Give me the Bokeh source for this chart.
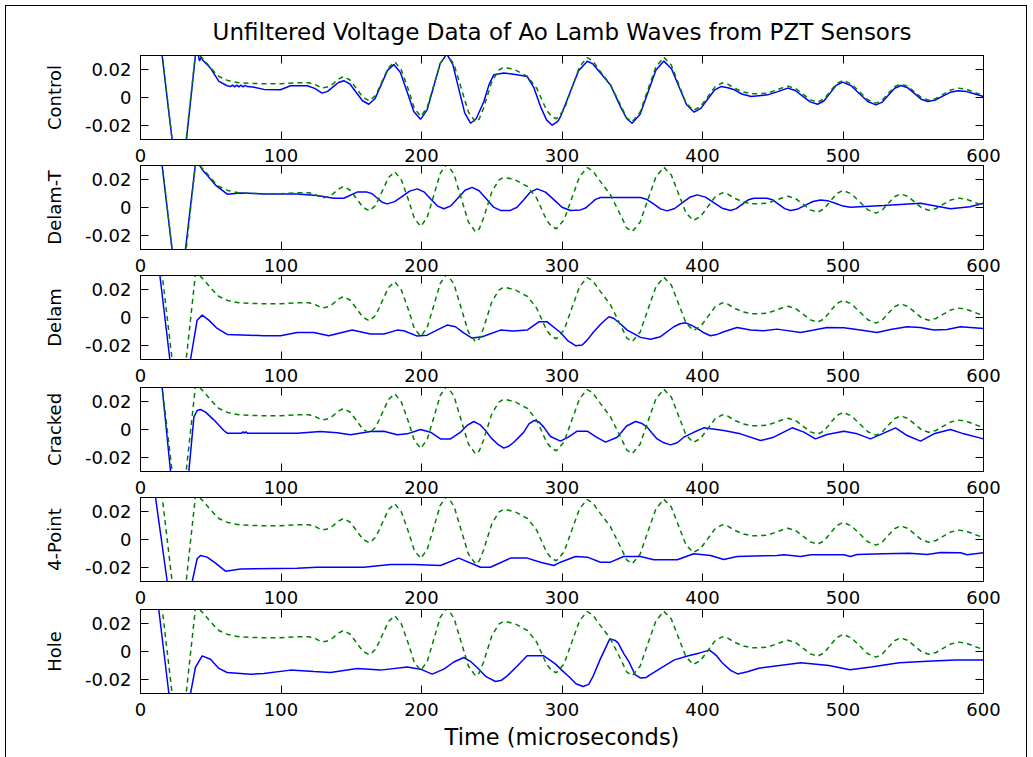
from bokeh.plotting import figure
from bokeh.layouts import column
from bokeh.models import LinearAxis, FixedTicker, Range1d, CustomJSTickFormatter
from bokeh.embed import file_html
from bokeh.resources import INLINE

FONT = "DejaVu Sans"
TITLE = "Unfiltered Voltage Data of Ao Lamb Waves from PZT Sensors"
X_LABEL = "Time (microseconds)"
panel_labels = ["Control", "Delam-T", "Delam", "Cracked", "4-Point", "Hole"]
x_ticks = [0, 100, 200, 300, 400, 500, 600]
y_ticks = [-0.02, 0, 0.02]

# green dashed reference (control) signal, drawn in every panel
t_ref = [0, 13.5, 15.5, 22.5, 27, 32.5, 39, 41.5, 43, 45, 50, 55.8, 62, 70, 80, 90, 100, 110, 120, 124.5,
         129, 132.9, 136.7, 140.6, 144.5, 149.1, 153.8, 158.4, 163, 167.5, 172, 176.5, 181, 185.6, 190.2,
         194.9, 199.5, 204.1, 208.8, 213.4, 218, 223.1, 228.2, 233.4, 238.5, 241, 244, 250, 255, 257.5, 260,
         267, 275.5, 282, 289, 292.5, 296, 301.5, 307, 312.5, 318, 322, 327, 334.5, 342, 346, 350, 355.6,
         361.2, 366.9, 372.5, 377.8, 383, 388.2, 393.5, 398.6, 403.8, 408.9, 414, 418, 423, 429, 435, 446,
         453, 456.5, 461, 466.2, 471.5, 476.8, 482, 486.5, 491, 495.5, 500, 505.9, 511.8, 517.6, 523.5,
         527.9, 532.2, 536.6, 541, 546, 551, 556, 561, 566.2, 571.5, 576.8, 582, 588, 594, 600]
v_ref = [0.045, 0.045, 0.03, -0.03, -0.045, -0.03, 0.03, 0.032, 0.029, 0.027, 0.021, 0.015, 0.0122, 0.0105,
         0.0100, 0.0098, 0.0098, 0.0105, 0.0105, 0.0092, 0.0067, 0.0075, 0.0095, 0.013, 0.015, 0.0125,
         0.0063, 0.0001, -0.0024, 0.0017, 0.0116, 0.0214, 0.0255, 0.0198, 0.007, -0.0078, -0.0135, -0.007,
         0.0088, 0.0245, 0.031, 0.0239, 0.0068, -0.0104, -0.0175, -0.0155, -0.008, 0.011, 0.0195, 0.021,
         0.0215, 0.0195, 0.015, 0.0066, -0.009, -0.0135, -0.0152, -0.0088, 0.0067, 0.0221, 0.0285, 0.026,
         0.019, 0.009, -0.006, -0.0145, -0.0172, -0.0105, 0.0058, 0.022, 0.0287, 0.0232, 0.0097, -0.0038,
         -0.0093, -0.0064, 0.0006, 0.0076, 0.0105, 0.0095, 0.0065, 0.004, 0.0026, 0.003, 0.0055, 0.0068,
         0.008, 0.0064, 0.0024, -0.0017, -0.0033, -0.001, 0.0045, 0.0099, 0.0122, 0.0098, 0.0041, -0.0016,
         -0.004, -0.002, 0.0029, 0.0077, 0.0097, 0.008, 0.0039, -0.0003, -0.002, -0.0007, 0.0024, 0.0054,
         0.0067, 0.0058, 0.0035, 0.0014]

# blue solid signals, one per panel
t_control = [0, 13.5, 15.4, 22.5, 27, 32.7, 39.1, 41, 42, 43, 44, 49.8, 55.8, 61.7, 64, 65.5, 67, 68.5, 70,
             71.5, 73, 74.5, 76, 80, 87.8, 99.6, 106.8, 118.6, 124, 129.3, 133.2, 137, 140.9, 144.7, 149.2,
             153.6, 158, 162.5, 167, 171.4, 175.8, 180.3, 185, 189.8, 194.5, 199.3, 204, 208.6, 213.3, 218,
             222.2, 226.5, 230.8, 235, 239, 244.4, 248, 251.5, 258.6, 268, 275.2, 280, 284.7, 289, 293, 297,
             299.2, 305.5, 311.8, 318, 322, 327.4, 334.5, 341.6, 346, 349.9, 355.6, 361.2, 366.8, 372.5, 377.9,
             383.2, 388.6, 394, 398.8, 403.6, 408.5, 413.3, 418, 422.7, 428, 434.6, 446.4, 453, 460.7, 466,
             471.3, 476.6, 481.9, 486.4, 490.8, 495.2, 499.7, 505.6, 511.6, 517.6, 523.5, 528, 532.4, 536.8,
             541.3, 546.1, 550.8, 555.6, 560.4, 565.7, 571, 576.4, 581.7, 588, 594, 600]
v_control = [0.045, 0.045, 0.03, -0.03, -0.045, -0.03, 0.03, 0.031, 0.026, 0.029, 0.027, 0.021, 0.0115,
             0.0084, 0.0078, 0.0088, 0.0076, 0.0088, 0.0076, 0.0088, 0.0076, 0.0086, 0.0078, 0.0075, 0.0058,
             0.0055, 0.0084, 0.0084, 0.0065, 0.0031, 0.0044, 0.0076, 0.0107, 0.012, 0.0095, 0.0036, -0.0023,
             -0.0048, -0.0007, 0.0094, 0.0194, 0.0235, 0.0179, 0.004, -0.01, -0.0156, -0.0088, 0.0077, 0.0242,
             0.031, 0.0238, 0.0063, -0.0112, -0.0184, -0.015, -0.0029, 0.009, 0.0163, 0.0175, 0.0163, 0.015,
             0.007, -0.0065, -0.016, -0.0198, -0.017, -0.0131, 0.003, 0.0192, 0.0259, 0.024, 0.0175, 0.009,
             -0.0065, -0.015, -0.0184, -0.0119, 0.0038, 0.0195, 0.026, 0.0206, 0.0078, -0.005, -0.0105,
             -0.0078, -0.0013, 0.0052, 0.0079, 0.007, 0.0055, 0.0025, 0.0007, 0.0019, 0.004, 0.0067, 0.005,
             0.001, -0.0031, -0.0048, -0.0025, 0.0031, 0.0087, 0.011, 0.0086, 0.0029, -0.0029, -0.0053,
             -0.0033, 0.0017, 0.0066, 0.0086, 0.0069, 0.0029, -0.0012, -0.0029, -0.0018, 0.001, 0.0037,
             0.0048, 0.0042, 0.0025, 0.0007]

t_delam_t = [0, 13.5, 15.4, 22.5, 27, 32, 39, 41.5, 44, 47.5, 53.4, 61.7, 71, 87.8, 111.5, 125.7, 137.6,
             144.7, 154.2, 161.3, 164.9, 168.4, 172, 175.6, 180.9, 186.3, 191.6, 197, 201.7, 206.4, 211.2,
             215.9, 220.9, 226, 231, 236, 241, 246.1, 251.2, 256.2, 263.3, 268, 272.8, 277.5, 282.3, 288.2,
             294.2, 300, 306, 313.2, 316.7, 320.3, 323.8, 327.4, 339.3, 355.9, 360.6, 365.4, 370.1, 374.9,
             380.2, 385.5, 390.9, 396.2, 402.1, 408, 414, 419.9, 424, 428.2, 432.3, 436.5, 446, 450.2, 454.3,
             458.5, 462.6, 468, 473.3, 478.6, 484, 489, 495, 500, 505.3, 529, 555.2, 576.5, 590.4, 600]
v_delam_t = [0.045, 0.045, 0.03, -0.03, -0.045, -0.03, 0.03, 0.031, 0.027, 0.023, 0.016, 0.0095, 0.0104,
             0.0097, 0.0097, 0.0085, 0.0066, 0.0066, 0.011, 0.011, 0.0098, 0.0068, 0.0038, 0.0026, 0.0042,
             0.008, 0.0117, 0.0133, 0.0112, 0.0062, 0.0012, -0.0009, 0.0012, 0.0068, 0.0123, 0.0144, 0.012,
             0.0062, 0.0003, -0.0021, -0.0021, 0.0002, 0.0056, 0.011, 0.0133, 0.011, 0.0056, 0.0002, -0.0021,
             -0.0017, -0.0004, 0.0027, 0.0058, 0.0071, 0.0071, 0.0071, 0.0057, 0.0024, -0.001, -0.0024,
             -0.0007, 0.0033, 0.0073, 0.009, 0.0074, 0.0035, -0.0005, -0.0021, -0.0008, 0.0023, 0.0053,
             0.0066, 0.0066, 0.0053, 0.0023, -0.0008, -0.0021, -0.001, 0.0017, 0.0043, 0.0054, 0.0049, 0.0028,
             0.001, 0.0002, 0.0014, 0.003, -0.0009, 0.0005, 0.003]

t_delam = [0, 12, 13.8, 20.9, 26, 32, 35.6, 40.3, 43.9, 48.6, 54.6, 61.7, 87.8, 99.6, 111.5, 123.4, 134,
           150.7, 163.7, 173.2, 182.7, 187.4, 197, 204, 212, 218.3, 224.2, 230, 236, 243.2, 256.2, 265.7,
           275.2, 283.5, 289.4, 298.9, 304, 309.6, 314.4, 318, 322.6, 328, 333.4, 337, 341.5, 346.4, 355.9,
           363, 370.1, 379.6, 384, 388, 392, 396.2, 400.5, 405.7, 410, 415.2, 424.6, 434.2, 443.6, 453.1,
           469.8, 479.3, 488.7, 500.6, 512.4, 524.2, 533.8, 545.6, 555.1, 564.6, 574.1, 583.6, 600]
v_delam = [0.045, 0.045, 0.03, -0.03, -0.05, -0.05, -0.03, -0.0019, 0.0017, -0.0019, -0.0078, -0.0121,
           -0.013, -0.013, -0.0107, -0.0107, -0.013, -0.009, -0.0118, -0.0118, -0.009, -0.0095, -0.0133,
           -0.0126, -0.0085, -0.0054, -0.0066, -0.011, -0.0147, -0.0138, -0.009, -0.0097, -0.009, -0.0031,
           -0.0031, -0.0107, -0.0165, -0.0201, -0.0196, -0.016, -0.0102, -0.0043, 0.0005, -0.0007, -0.0045,
           -0.009, -0.0142, -0.0156, -0.0137, -0.0066, -0.0045, -0.0038, -0.0055, -0.0078, -0.0107, -0.013,
           -0.0122, -0.0102, -0.0071, -0.009, -0.0095, -0.0083, -0.0107, -0.009, -0.0071, -0.0073, -0.009,
           -0.0107, -0.0085, -0.0066, -0.0071, -0.009, -0.0085, -0.0066, -0.0078]

t_cracked = [0, 13.5, 15.4, 21.4, 26, 31, 34.4, 38, 40.3, 42.7, 46.3, 52.2, 59.3, 61.7, 72, 73, 74, 75, 76,
             111.5, 128.1, 140, 149.5, 163.7, 173.2, 182.7, 189.8, 199.3, 206.4, 213.5, 220.6, 227.8, 232.5,
             237.2, 241.5, 245.6, 249.5, 253.9, 258.6, 262, 265.7, 269, 272.8, 276.5, 280, 283.5, 287, 291.8,
             298.9, 304.5, 310.8, 318, 324.5, 331, 339.3, 346, 352.3, 356.5, 360.6, 364, 367.7, 372.5, 377.2,
             382, 386.7, 393.8, 400.9, 415.2, 427, 441.3, 450.7, 463.8, 472.2, 480.4, 488.7, 500.6, 510.1,
             519.6, 529, 537.4, 545.7, 555.2, 564.7, 576.5, 586, 600]
v_cracked = [0.045, 0.045, 0.03, -0.03, -0.05, -0.05, -0.03, 0.0088, 0.0136, 0.0143, 0.0124, 0.0069, -0.0007,
             -0.0026, -0.0026, -0.0016, -0.0026, -0.0016, -0.0026, -0.0026, -0.0014, -0.0024, -0.0038, -0.0014,
             -0.0012, -0.0038, -0.0031, 0.0, -0.0019, -0.0067, -0.0067, -0.0019, 0.003, 0.0057, 0.0035,
             -0.0007, -0.006, -0.0102, -0.0133, -0.012, -0.0091, -0.0058, -0.0019, 0.004, 0.0064, 0.0055,
             0.0017, -0.005, -0.0083, -0.0055, -0.0012, -0.0012, -0.0055, -0.009, -0.0055, 0.0025, 0.0057,
             0.0045, 0.0017, -0.0025, -0.0067, -0.0095, -0.011, -0.0095, -0.0055, -0.002, 0.0012, -0.0007,
             -0.0031, -0.0079, -0.0055, 0.0012, -0.0019, -0.0067, -0.0036, -0.0012, -0.0031, -0.0067, -0.0026,
             0.0012, -0.0043, -0.0083, -0.0031, 0.0, -0.0031, -0.0067]

t_4point = [0, 9, 10.7, 19, 24, 33, 36.8, 40.3, 42.7, 47.4, 53.4, 60.5, 71.2, 111.5, 125.7, 159, 177.9,
            194.5, 213.5, 226.6, 242, 249, 263.3, 275.2, 284.7, 294.2, 298.9, 309.6, 318, 327.4, 334.5, 343.9,
            355.9, 365.4, 382, 393.8, 405.7, 415.2, 424.6, 453.1, 458, 469.8, 477.1, 500.6, 505.3, 510, 529,
            547.1, 560, 569.4, 583.6, 588.4, 600]
v_4point = [0.045, 0.045, 0.03, -0.03, -0.05, -0.05, -0.03, -0.0138, -0.0114, -0.0126, -0.0169, -0.0226,
            -0.021, -0.0205, -0.0198, -0.0198, -0.0179, -0.0179, -0.0186, -0.0133, -0.0198, -0.0198, -0.0133,
            -0.0133, -0.0162, -0.0186, -0.0162, -0.0121, -0.0126, -0.0162, -0.0162, -0.0121, -0.0121, -0.0145,
            -0.0145, -0.0102, -0.0114, -0.0143, -0.0121, -0.0114, -0.0109, -0.0121, -0.0109, -0.0109, -0.0121,
            -0.0107, -0.0102, -0.0098, -0.0107, -0.0093, -0.0095, -0.0109, -0.0095]

t_hole = [0, 11, 13, 20.2, 25, 32, 35.6, 39.1, 43.9, 49.8, 55.8, 61.7, 78.3, 87.8, 106.8, 123.4, 135.2,
          154.2, 170.8, 189.8, 199.3, 207.6, 215.9, 223, 230.1, 234.8, 239.6, 246, 252.7, 257, 261, 268,
          275.2, 287, 292, 295.4, 300, 305, 310, 315, 319, 322, 327, 334, 338, 340, 344, 348, 352, 356, 360,
          362, 370, 380, 390, 398, 405, 410, 414, 420, 425, 432, 440, 470, 490, 505, 520, 540, 560, 580, 600]
v_hole = [0.045, 0.045, 0.03, -0.03, -0.05, -0.05, -0.03, -0.0114, -0.0031, -0.0055, -0.0121, -0.015, -0.0162,
          -0.0157, -0.0133, -0.0143, -0.015, -0.0121, -0.0133, -0.011, -0.0126, -0.0162, -0.0126, -0.0075,
          -0.0043, -0.007, -0.0114, -0.018, -0.0214, -0.0205, -0.0174, -0.0105, -0.0031, -0.0031, -0.0065,
          -0.009, -0.0135, -0.018, -0.023, -0.025, -0.0235, -0.018, -0.006, 0.009, 0.0078, 0.006, -0.0015,
          -0.008, -0.0165, -0.019, -0.0185, -0.017, -0.012, -0.006, -0.003, -0.001, 0.001, -0.003, -0.008,
          -0.0135, -0.016, -0.0145, -0.012, -0.008, -0.01, -0.013, -0.011, -0.008, -0.007, -0.006, -0.006]

series = [(t_control, v_control), (t_delam_t, v_delam_t), (t_delam, v_delam),
          (t_cracked, v_cracked), (t_4point, v_4point), (t_hole, v_hole)]

# gaps (px) between consecutive panel frames, in the reference
gaps = [26, 26, 28, 26, 28]
AXIS_BOTTOM = 32     # room kept under each frame for tick labels

tick_fmt = CustomJSTickFormatter(code="return Math.abs(tick) < 1e-9 ? '0' : tick.toFixed(2);")

figs = []
n = len(panel_labels)
for i, (label, (tt, vv)) in enumerate(zip(panel_labels, series)):
    last = i == n - 1
    p = figure(frame_width=843, frame_height=84, x_range=Range1d(0, 600), y_range=Range1d(-0.03, 0.03),
               output_backend="svg", toolbar_location=None,
               min_border_left=134, min_border_right=43,
               min_border_top=49 if i == 0 else 0,
               min_border_bottom=66 if last else AXIS_BOTTOM)
    if i > 0:
        p.margin = (gaps[i - 1] - AXIS_BOTTOM, 0, 0, 0)
    p.grid.visible = False
    p.outline_line_color = "black"
    p.background_fill_color = "white"
    p.border_fill_color = None

    xa = p.xaxis[0]
    xa.ticker = FixedTicker(ticks=x_ticks)
    ya = p.yaxis[0]
    ya.ticker = FixedTicker(ticks=y_ticks)
    ya.formatter = tick_fmt
    ya.axis_label = label
    ya.axis_label_text_font = FONT
    ya.axis_label_text_font_size = "18px"
    ya.axis_label_text_font_style = "normal"
    ya.axis_label_text_color = "black"
    ya.axis_label_standoff = 17
    for ax in (xa, ya):
        ax.major_tick_in = 8
        ax.major_tick_out = 0
        ax.minor_tick_line_color = None
        ax.axis_line_color = "black"
        ax.major_tick_line_color = "black"
        ax.major_label_text_font = FONT
        ax.major_label_text_font_size = "18px"
        ax.major_label_text_color = "black"
    xa.major_label_standoff = 9
    ya.major_label_standoff = 9
    if last:
        xa.axis_label = X_LABEL
        xa.axis_label_text_font = FONT
        xa.axis_label_text_font_size = "22.5px"
        xa.axis_label_text_font_style = "normal"
        xa.axis_label_text_color = "black"
        xa.axis_label_standoff = 5

    top_ax = LinearAxis(ticker=FixedTicker(ticks=x_ticks), major_label_text_color=None,
                        major_label_text_font_size="1px",
                        major_label_standoff=0, major_tick_in=8, major_tick_out=0,
                        minor_tick_line_color=None, axis_line_color="black")
    right_ax = LinearAxis(ticker=FixedTicker(ticks=y_ticks), major_label_text_color=None,
                          major_label_text_font_size="1px",
                          major_label_standoff=0, major_tick_in=8, major_tick_out=0,
                          minor_tick_line_color=None, axis_line_color="black")
    p.add_layout(top_ax, "above")
    p.add_layout(right_ax, "right")

    if i == 0:
        p.title.text = TITLE
        p.title.align = "center"
        p.title.text_font = FONT
        p.title.text_font_size = "23px"
        p.title.text_font_style = "normal"
        p.title.text_color = "black"
        p.title.standoff = 21

    p.line(tt, vv, line_color="#0000ff", line_width=1.5)
    p.line(t_ref, v_ref, line_color="#008000", line_width=1.5, line_dash="5 4")
    figs.append(p)

layout = column(*figs, spacing=0, margin=(6, 0, 0, 6),
                styles={"outline": "1px solid black", "background-color": "white"})

open("out.html", "w").write(file_html(layout, INLINE))
